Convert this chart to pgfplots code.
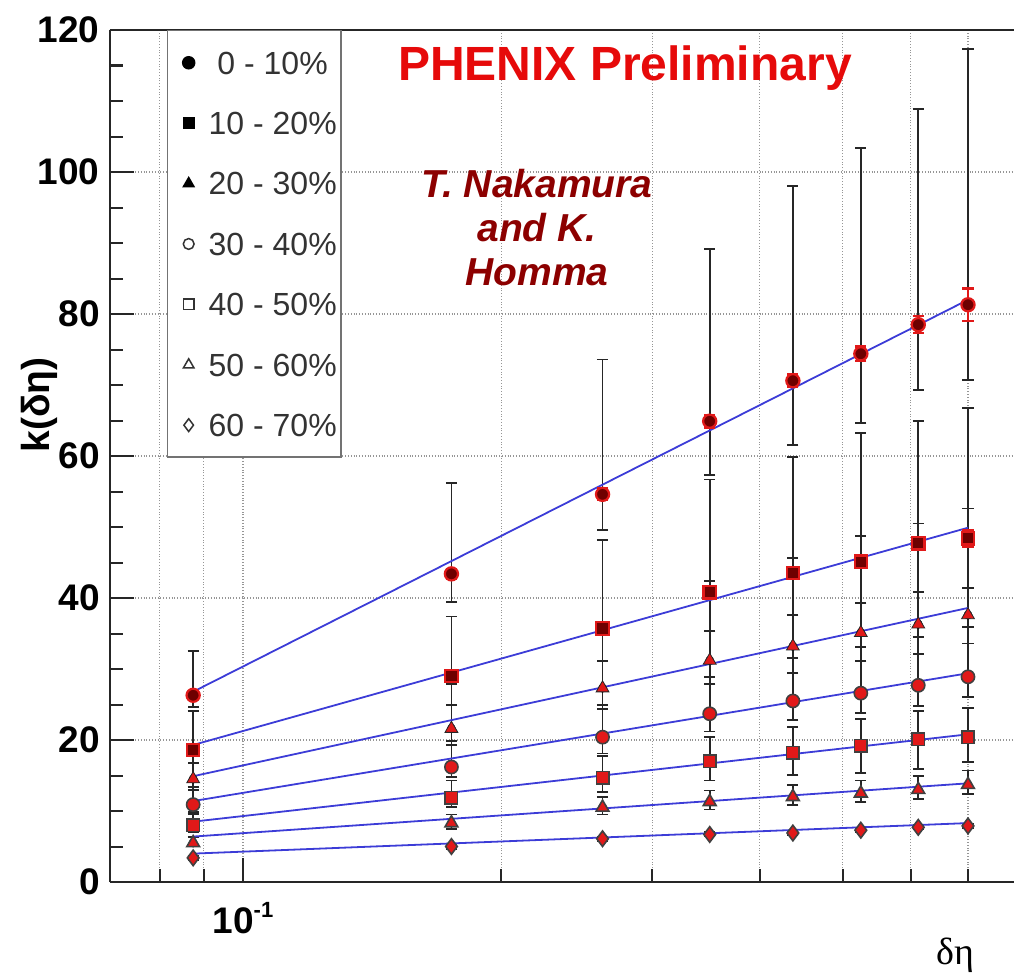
\documentclass[border=0pt]{standalone}
\usepackage{fontspec}
\setmainfont{Liberation Sans}
\newfontfamily\seriffont{Liberation Serif}
\usepackage{pgfplots}
\pgfplotsset{compat=1.18}
\usepackage{pgfplotstable}
\definecolor{fitblue}{RGB}{60,60,215}
\definecolor{darkred}{RGB}{140,0,0}
\definecolor{phred}{RGB}{230,10,10}
\definecolor{mkred}{RGB}{225,25,25}
\definecolor{mkdark}{RGB}{110,0,0}
\definecolor{gridgray}{RGB}{150,150,150}

\pgfplotstableread{
x y ep em es
0.0875 26.3 6.2 1.7 0.5
0.175 43.4 12.8 4.0 0.7
0.2625 54.6 19.0 5.0 0.8
0.35 64.9 24.3 7.6 0.9
0.4375 70.6 27.4 9.1 0.9
0.525 74.4 29.0 9.8 1.0
0.6125 78.5 30.4 9.2 1.2
0.7 81.3 36.0 10.6 2.3
}\sA
\pgfplotstableread{
x y ep em es
0.0875 18.6 5.5 1.8 0.4
0.175 29.0 8.4 4.1 0.5
0.2625 35.7 12.5 4.6 0.6
0.35 40.8 15.9 5.4 0.7
0.4375 43.5 16.4 5.9 0.7
0.525 45.1 18.1 5.8 0.8
0.6125 47.7 17.2 6.9 0.9
0.7 48.4 18.4 7.0 1.2
}\sB
\pgfplotstableread{
x y ep em
0.0875 14.5 3.8 1.5
0.175 21.6 6.3 2.3
0.2625 27.3 9.2 2.9
0.35 31.2 11.2 3.3
0.4375 33.2 12.4 3.8
0.525 35.1 13.6 4.0
0.6125 36.3 14.2 4.2
0.7 37.6 15.0 4.0
}\sC
\pgfplotstableread{
x y ep em
0.0875 10.9 2.5 1.0
0.175 16.2 3.7 1.4
0.2625 20.4 4.5 2.3
0.35 23.7 5.2 2.5
0.4375 25.5 6.0 2.7
0.525 26.6 6.5 2.8
0.6125 27.7 6.8 2.9
0.7 28.9 7.0 2.8
}\sD
\pgfplotstableread{
x y ep em
0.0875 8.0 1.6 0.9
0.175 11.9 2.4 1.3
0.2625 14.7 3.0 2.0
0.35 17.0 3.4 2.7
0.4375 18.2 3.6 3.1
0.525 19.2 3.8 3.8
0.6125 20.1 4.0 4.2
0.7 20.4 4.1 3.5
}\sE
\pgfplotstableread{
x y ep em
0.0875 5.5 0.8 0.5
0.175 8.3 1.2 0.8
0.2625 10.5 1.5 1.0
0.35 11.3 1.6 1.1
0.4375 12.0 1.7 1.2
0.525 12.5 1.8 1.2
0.6125 13.0 1.9 1.3
0.7 13.7 2.0 1.3
}\sF
\pgfplotstableread{
x y ep em
0.0875 3.4 0.3 0.3
0.175 5.0 0.3 0.3
0.2625 6.1 0.3 0.3
0.35 6.7 0.3 0.3
0.4375 6.9 0.3 0.3
0.525 7.3 0.3 0.3
0.6125 7.7 0.3 0.3
0.7 7.9 0.3 0.3
}\sG

\pgfplotsset{
  syserr/.style={forget plot, only marks, mark=none,
    error bars/.cd, y dir=both, y explicit,
    error bar style={black!85, line width=0.9pt},
    error mark options={rotate=90, black!85, line width=0.9pt, mark size=2.8pt}},
  staterr/.style={forget plot, only marks, mark=none,
    error bars/.cd, y dir=both, y explicit,
    error bar style={mkred, line width=1.2pt},
    error mark options={rotate=90, mkred, line width=1.2pt, mark size=2.8pt}},
  fit/.style={forget plot, fitblue, line width=0.9pt},
  fmk/.style={forget plot, only marks, mark options={fill=mkdark, draw=mkred, line width=1.1pt}},
  omk/.style={forget plot, only marks, mark options={fill=mkred, draw=black!75, line width=0.8pt}},
}

\begin{document}
\begin{tikzpicture}
\path[use as bounding box] (0,0) rectangle (507.5pt,-489pt);
\begin{axis}[
  at={(55pt,-441pt)}, anchor=south west,
  scale only axis, width=452pt, height=426pt,
  xmode=log, xmin=0.07, xmax=0.792, ymin=0, ymax=120,
  axis x line=box, axis y line=left,
  axis line style={-, line width=1.2pt, black!85},
  xtick pos=left,
  tick align=inside,
  ytick={0,20,40,60,80,100,120}, minor y tick num=3,
  xtick={0.1}, xticklabels={10\raisebox{8pt}{\fontsize{11}{12}\selectfont -1}},
  minor xtick={0.08,0.09,0.2,0.3,0.4,0.5,0.6,0.7},
  major tick length=12pt, minor tick length=6.5pt,
  every tick/.style={black!85, line width=1pt},
  xmajorgrids, xminorgrids, ymajorgrids,
  grid style={densely dotted, gridgray, line width=0.6pt},
  /pgf/number format/assume math mode=true,
  tick label style={font=\bfseries\fontsize{18.5}{20}\selectfont},
  yticklabel style={inner sep=0pt, xshift=-5pt},
  xticklabel style={inner sep=0pt, yshift=-10pt},
  ylabel={k(δη)},
  ylabel style={at={(axis description cs:-0.0785,0.56)}, anchor=center, font=\bfseries\fontsize{19.5}{22}\selectfont},
  xlabel={δη},
  xlabel style={at={(axis description cs:0.935,-0.0857)}, anchor=center, font=\seriffont\fontsize{19}{22}\selectfont},
  legend style={at={(axis description cs:0.063,1)}, anchor=north west,
    draw=black!55, line width=0.75pt, fill=white,
    inner xsep=2pt, inner ysep=9pt, row sep=16.2pt, column sep=1.5pt,
    font=\fontsize{16}{18}\selectfont, text=black!80,
    nodes={inner sep=0pt, text height=12.7pt, text depth=1.3pt}},
  legend cell align=left,
  legend image code/.code={\path[draw=none, fill=none] (0pt,-3pt) rectangle (17pt,3pt); \draw[#1] plot coordinates {(8.5pt,0pt)};},
]
% systematic error bars
\addplot[syserr] table[x=x, y=y, y error plus=ep, y error minus=em]{\sA};
\addplot[syserr] table[x=x, y=y, y error plus=ep, y error minus=em]{\sB};
\addplot[syserr] table[x=x, y=y, y error plus=ep, y error minus=em]{\sC};
\addplot[syserr] table[x=x, y=y, y error plus=ep, y error minus=em]{\sD};
\addplot[syserr] table[x=x, y=y, y error plus=ep, y error minus=em]{\sE};
\addplot[syserr] table[x=x, y=y, y error plus=ep, y error minus=em]{\sF};
\addplot[syserr] table[x=x, y=y, y error plus=ep, y error minus=em]{\sG};
% fits
\addplot[fit] coordinates {(0.0875,26.8) (0.7,82.0)};
\addplot[fit] coordinates {(0.0875,19.3) (0.7,49.9)};
\addplot[fit] coordinates {(0.0875,14.9) (0.7,38.6)};
\addplot[fit] coordinates {(0.0875,11.4) (0.7,29.4)};
\addplot[fit] coordinates {(0.0875,8.5) (0.7,20.8)};
\addplot[fit] coordinates {(0.0875,6.4) (0.7,13.9)};
\addplot[fit] coordinates {(0.0875,4.0) (0.7,8.3)};
% statistical error bars
\addplot[staterr] table[x=x, y=y, y error plus=es, y error minus=es]{\sA};
\addplot[staterr] table[x=x, y=y, y error plus=es, y error minus=es]{\sB};
% markers
\addplot[fmk, mark=*, mark size=3.3pt] table[x=x, y=y]{\sA};
\addplot[fmk, mark=square*, mark size=3.1pt] table[x=x, y=y]{\sB};
\addplot[omk, mark=triangle*, mark size=3.7pt, mark options={fill=mkred, draw=black!85}] table[x=x, y=y]{\sC};
\addplot[omk, mark=*, mark size=3.3pt] table[x=x, y=y]{\sD};
\addplot[omk, mark=square*, mark size=3.1pt] table[x=x, y=y]{\sE};
\addplot[omk, mark=triangle*, mark size=3.7pt] table[x=x, y=y]{\sF};
\addplot[omk, mark=diamond*, mark size=3.9pt] table[x=x, y=y]{\sG};
% legend
\addlegendimage{only marks, mark=*, mark size=3pt, black}
\addlegendentry{\hspace{4.4pt}0 - 10\%}
\addlegendimage{only marks, mark=square*, mark size=2.6pt, black}
\addlegendentry{10 - 20\%}
\addlegendimage{only marks, mark=triangle*, mark size=3pt, black}
\addlegendentry{20 - 30\%}
\addlegendimage{only marks, mark=o, mark size=2.7pt, black!80}
\addlegendentry{30 - 40\%}
\addlegendimage{only marks, mark=square, mark size=2.6pt, black!80}
\addlegendentry{40 - 50\%}
\addlegendimage{only marks, mark=triangle, mark size=3pt, black!80}
\addlegendentry{50 - 60\%}
\addlegendimage{only marks, mark=diamond, mark size=3.2pt, black!80}
\addlegendentry{60 - 70\%}
\end{axis}
\node[phred, font=\bfseries\fontsize{24}{26}\selectfont, anchor=center] at (312.5pt,-34pt) {PHENIX Preliminary};
\node[darkred, font=\bfseries\itshape\fontsize{19.5}{22}\selectfont, align=center, anchor=center] at (268.5pt,-114pt) {T. Nakamura\\and K.\\Homma};
\end{tikzpicture}
\end{document}
